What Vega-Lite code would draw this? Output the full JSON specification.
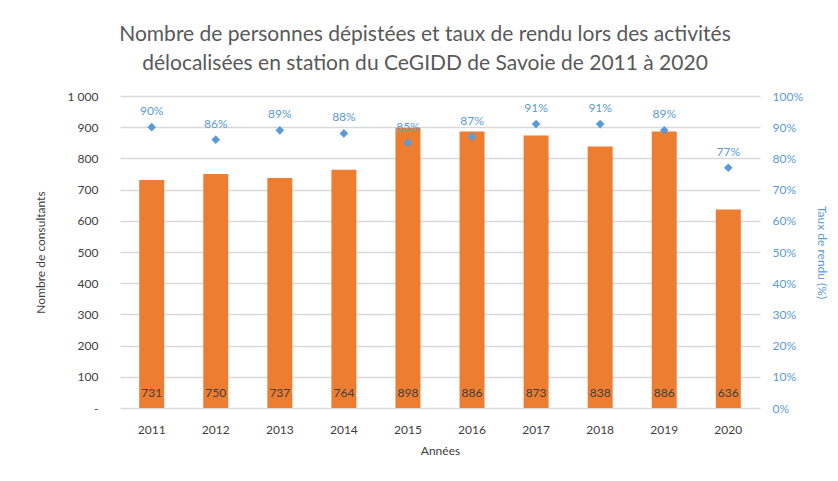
{
  "$schema": "https://vega.github.io/schema/vega-lite/v6.json",
  "width": 640,
  "height": 312,
  "autosize": {"type": "none"},
  "padding": {"left": 120, "top": 96, "right": 78, "bottom": 73},
  "background": "white",
  "title": {
    "text": ["Nombre de personnes dépistées et taux de rendu lors des activités", "délocalisées en station du CeGIDD de Savoie de 2011 à 2020"],
    "font": "Lato",
    "fontSize": 21,
    "fontWeight": "normal",
    "color": "#595959",
    "lineHeight": 29,
    "anchor": "middle",
    "dx": -15,
    "offset": 16
  },
  "data": {
    "values": [
      {"annee": "2011", "n": 731, "taux": 0.90},
      {"annee": "2012", "n": 750, "taux": 0.86},
      {"annee": "2013", "n": 737, "taux": 0.89},
      {"annee": "2014", "n": 764, "taux": 0.88},
      {"annee": "2015", "n": 898, "taux": 0.85},
      {"annee": "2016", "n": 886, "taux": 0.87},
      {"annee": "2017", "n": 873, "taux": 0.91},
      {"annee": "2018", "n": 838, "taux": 0.91},
      {"annee": "2019", "n": 886, "taux": 0.89},
      {"annee": "2020", "n": 636, "taux": 0.77}
    ]
  },
  "encoding": {
    "x": {
      "field": "annee",
      "type": "ordinal",
      "scale": {"paddingInner": 0.61, "paddingOuter": 0.3},
      "axis": {
        "title": "Années",
        "labelAngle": 0,
        "labelFont": "Lato",
        "labelFontSize": 12,
        "labelColor": "#404040",
        "titleFont": "Lato",
        "titleFontSize": 12,
        "titleFontWeight": "normal",
        "titleColor": "#404040",
        "ticks": false,
        "domain": false,
        "labelPadding": 16,
        "titlePadding": 10
      }
    }
  },
  "layer": [
    {
      "encoding": {
        "y": {
          "field": "n",
          "type": "quantitative",
          "scale": {"domain": [0, 1000]},
          "axis": {
            "title": "Nombre de consultants",
            "values": [0, 100, 200, 300, 400, 500, 600, 700, 800, 900, 1000],
            "labelOverlap": false,
            "labelExpr": "datum.value == 0 ? '-' : replace(format(datum.value, ','), ',', ' ')",
            "labelFont": "Lato",
            "labelFontSize": 12,
            "labelColor": "#404040",
            "titleFont": "Lato",
            "titleFontSize": 12,
            "titleFontWeight": "normal",
            "titleColor": "#404040",
            "ticks": false,
            "domain": false,
            "grid": true,
            "gridColor": "#d9d9d9",
            "gridWidth": 1.5,
            "labelPadding": 22,
            "titlePadding": 20
          }
        }
      },
      "layer": [
        {"mark": {"type": "bar", "color": "#ED7D31"}},
        {
          "mark": {"type": "text", "baseline": "bottom", "dy": -8, "font": "Lato", "fontSize": 12, "color": "#404040"},
          "encoding": {"y": {"datum": 0}, "text": {"field": "n", "type": "quantitative"}}
        }
      ]
    },
    {
      "encoding": {
        "y": {
          "field": "taux",
          "type": "quantitative",
          "scale": {"domain": [0, 1]},
          "axis": {
            "orient": "right",
            "title": "Taux de rendu (%)",
            "format": ".0%",
            "values": [0, 0.1, 0.2, 0.3, 0.4, 0.5, 0.6, 0.7, 0.8, 0.9, 1],
            "labelOverlap": false,
            "labelFont": "Lato",
            "labelFontSize": 12,
            "labelColor": "#5B9BD5",
            "titleFont": "Lato",
            "titleFontSize": 12,
            "titleFontWeight": "normal",
            "titleColor": "#5B9BD5",
            "ticks": false,
            "domain": false,
            "grid": false,
            "labelPadding": 12,
            "titlePadding": 12
          }
        }
      },
      "layer": [
        {"mark": {"type": "point", "shape": "diamond", "filled": true, "size": 75, "color": "#5B9BD5", "opacity": 1}},
        {
          "mark": {"type": "text", "baseline": "bottom", "dy": -9, "font": "Lato", "fontSize": 12, "color": "#5B9BD5"},
          "encoding": {"text": {"field": "taux", "type": "quantitative", "format": ".0%"}}
        }
      ]
    }
  ],
  "resolve": {"scale": {"y": "independent"}},
  "config": {"view": {"stroke": null}}
}
